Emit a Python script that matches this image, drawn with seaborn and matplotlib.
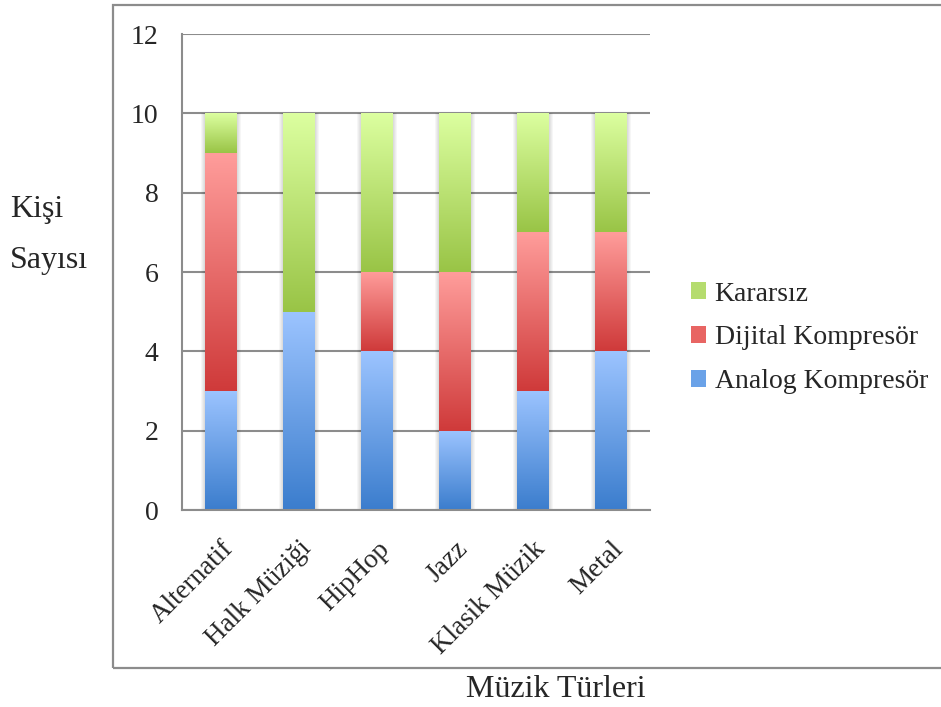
import numpy as np
import pandas as pd
import matplotlib
matplotlib.use("Agg")
import matplotlib.pyplot as plt
from matplotlib.colors import LinearSegmentedColormap
from matplotlib.patches import Patch, Rectangle
import seaborn as sns

# Survey data: number of people per music genre and compressor preference
turler = ["Alternatif", "Halk Müziği", "HipHop", "Jazz", "Klasik Müzik", "Metal"]
analog = [3, 5, 4, 2, 3, 4]
dijital = [6, 0, 2, 4, 4, 3]
kararsiz = [1, 5, 4, 4, 3, 3]

seri_adlari = ["Analog Kompresör", "Dijital Kompresör", "Kararsız"]
seri_degerleri = [analog, dijital, kararsiz]
# (dark bottom, light top) gradient colours per series
seri_renkleri = [("#3b7dcd", "#9cc4ff"),
                 ("#cf3a3a", "#ff9d9b"),
                 ("#99c446", "#dcffa0")]
legend_renkleri = ["#b5dc6e", "#e86563", "#6aa2e8"]

sns.set_style("white")
plt.rcParams["font.family"] = ["Liberation Serif", "DejaVu Serif"]

W, H = 941, 707
fig = plt.figure(figsize=(W / 100, H / 100), dpi=100)
ax = fig.add_axes([182 / W, 1 - 510 / H, (650 - 182) / W, (510 - 34) / H])

grid_col = "#8c8c8c"
tabanlar = np.zeros(len(turler))
segmentler = []
for ad, degerler, renk in zip(seri_adlari, seri_degerleri, seri_renkleri):
    df = pd.DataFrame({"tur": turler, "kisi": degerler})
    once = len(ax.patches)
    sns.barplot(data=df, x="tur", y="kisi", order=turler, color=renk[1],
                saturation=1, width=0.41, errorbar=None, bottom=tabanlar.copy(),
                linewidth=0, ax=ax, zorder=2)
    for p in ax.patches[once:]:
        segmentler.append((p, renk))
    tabanlar = tabanlar + np.array(degerler, dtype=float)

# Vertical gradient fill inside each bar segment
grad = np.linspace(0, 1, 256).reshape(-1, 1)
for p, renk in segmentler:
    h = p.get_height()
    if h <= 0:
        continue
    x0, y0, w = p.get_x(), p.get_y(), p.get_width()
    cmap = LinearSegmentedColormap.from_list("g", [renk[0], renk[1]])
    im = ax.imshow(grad, extent=[x0, x0 + w, y0, y0 + h], origin="lower",
                   aspect="auto", cmap=cmap, vmin=0, vmax=1, zorder=2.5,
                   interpolation="bicubic")
    im.set_clip_path(p)

# Soft shadow along the sides of each stacked bar
px = len(turler) / (650 - 182)
ilk_seri = [p for p, _ in segmentler[:len(turler)]]
for p, toplam in zip(ilk_seri, tabanlar):
    x0, w = p.get_x(), p.get_width()
    for k in (1, 2, 3, 4):
        ax.add_patch(Rectangle((x0 - k * px, 0), w + 2 * k * px, toplam,
                               facecolor="black", edgecolor="none",
                               alpha=0.035, zorder=1.9))

ax.set_xlim(-0.5, len(turler) - 0.5)
ax.set_ylim(0, 12)
ax.set_aspect("auto")
ax.set_yticks(range(0, 13, 2))
ax.set_xticks(range(len(turler)))
ax.set_xticks(np.arange(-0.5, len(turler), 1.0), minor=True)
ax.set_xticklabels(turler, rotation=45, ha="right", va="top",
                   rotation_mode="anchor", fontsize=19.5)
ax.tick_params(axis="x", which="major", length=0, pad=19)
ax.tick_params(axis="x", which="minor", length=7, width=1.5, color=grid_col,
               direction="out")
ax.tick_params(axis="y", length=6, width=1.5, color=grid_col, direction="out",
               labelsize=20, pad=11)
ax.yaxis.grid(True, color=grid_col, linewidth=1.5)
ax.set_axisbelow(True)
for s in ["top", "right"]:
    ax.spines[s].set_visible(False)
for s in ["left", "bottom"]:
    ax.spines[s].set_color(grid_col)
    ax.spines[s].set_linewidth(1.5)
ax.set_xlabel("")
ax.set_ylabel("")

# Outer chart frame
fig.patches.append(Rectangle((113 / W, 1 - 668 / H), 1.0, (668 - 5) / H,
                             transform=fig.transFigure, fill=False,
                             edgecolor="#8c8c8c", linewidth=1.6))

# Axis titles
fig.text(10 / W, 1 - 217 / H, "Kişi", fontsize=23, ha="left", va="baseline")
fig.text(10 / W, 1 - 268 / H, "Sayısı", fontsize=23, ha="left", va="baseline")
fig.text(556 / W, 1 - 697 / H, "Müzik Türleri", fontsize=23, ha="center",
         va="baseline")

# Legend (top series first)
handles = [Patch(facecolor=c, edgecolor="none") for c in legend_renkleri]
fig.legend(handles, seri_adlari[::-1], loc="center left",
           bbox_to_anchor=(691 / W, 1 - 338 / H), frameon=False, fontsize=20,
           handlelength=0.55, handleheight=0.55, handletextpad=0.3,
           labelspacing=0.68, borderpad=0, borderaxespad=0)

fig.savefig("out.png", dpi=100)
